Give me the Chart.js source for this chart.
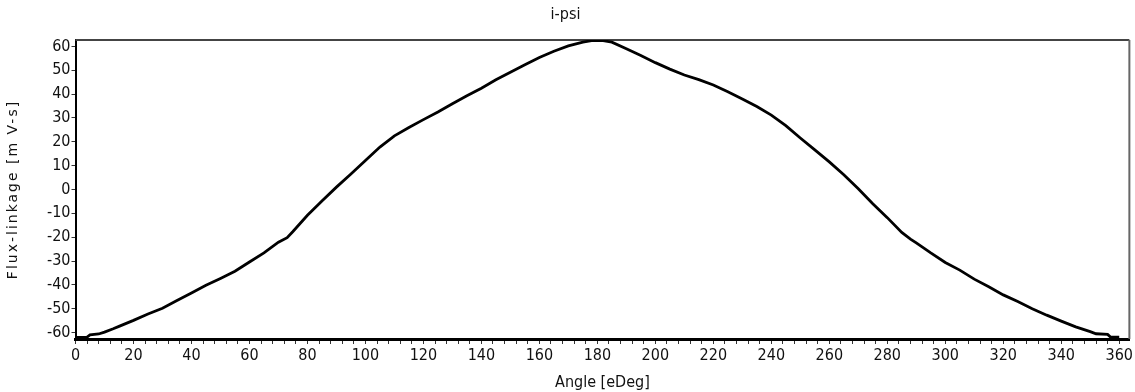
<!DOCTYPE html>
<html>
<head>
<meta charset="utf-8">
<script src="https://cdn.jsdelivr.net/npm/chart.js@4/dist/chart.umd.min.js"></script>
<style>
  html, body { margin: 0; padding: 0; background: #ffffff; }
  #wrap { width: 1135px; height: 392px; position: relative; }
</style>
</head>
<body>
<div id="wrap"><canvas id="c" width="1135" height="392"></canvas></div>
<script>
// ---- data ----
const chartTitle = "i-psi";
const xAxisTitle = "Angle [eDeg]";
const yAxisTitle = "Flux-linkage [m V-s]";

const angleDeg = [
  0, 4, 5, 8, 10, 13, 15, 20, 25, 30, 35, 40, 45, 50, 55, 60, 65, 70, 73, 75,
  80, 85, 90, 95, 100, 105, 110, 115, 120, 125, 130, 135, 140, 145, 150, 155,
  160, 165, 170, 175, 178, 182, 185, 190, 195, 200, 205, 210, 215, 220, 225,
  230, 235, 240, 245, 250, 255, 260, 265, 270, 275, 280, 285, 288, 290, 295,
  300, 305, 310, 315, 320, 325, 330, 335, 340, 345, 350, 352, 356, 357, 360
];
const fluxLinkage = [
  -62.0, -61.9, -61.0, -60.6, -59.8, -58.4, -57.4, -54.9, -52.2, -49.8, -46.6, -43.4, -40.2, -37.3, -34.3, -30.4, -26.6, -22.1, -20.2, -17.6,
  -10.8, -4.8, 1.0, 6.5, 12.2, 17.8, 22.5, 26.0, 29.3, 32.5, 36.0, 39.3, 42.5, 46.0, 49.2, 52.3,
  55.4, 58.0, 60.2, 61.8, 62.4, 62.4, 61.8, 59.0, 56.2, 53.2, 50.5, 48.0, 46.1, 43.8, 41.0,
  38.0, 34.8, 31.2, 26.8, 21.6, 16.6, 11.6, 6.2, 0.3, -6.0, -11.8, -18.0, -20.8, -22.4, -26.6,
  -30.6, -33.8, -37.6, -40.8, -44.2, -47.0, -50.0, -52.7, -55.2, -57.6, -59.6, -60.5, -60.8, -61.9, -61.9
];
const yTickValues = [-60, -50, -40, -30, -20, -10, 0, 10, 20, 30, 40, 50, 60];
const xLabelStep = 20;

const FONT_FAMILY = "'Liberation Sans Narrow', 'DejaVu Sans Condensed', 'Roboto Condensed', Roboto, sans-serif";
const TITLE_FONT_FAMILY = "'DejaVu Sans', Verdana, sans-serif";

const framePlugin = {
  id: 'frame',
  beforeDatasetsDraw(chart) {
    const { ctx, chartArea: a } = chart;
    ctx.save();
    ctx.strokeStyle = '#444444';
    ctx.lineWidth = 2;
    ctx.beginPath();
    ctx.moveTo(a.left, a.top);
    ctx.lineTo(a.right, a.top);
    ctx.stroke();
    ctx.strokeStyle = '#666666';
    ctx.beginPath();
    ctx.moveTo(a.right, a.top);
    ctx.lineTo(a.right, a.bottom);
    ctx.stroke();
    ctx.restore();
  },
  afterLayout(chart) {
    const ys = chart.scales.y;
    if (ys && !ys._spacedTitle) {
      const orig = ys.drawTitle.bind(ys);
      ys.drawTitle = function () {
        const ctx = this.ctx;
        ctx.save();
        ctx.letterSpacing = '2px';
        orig();
        ctx.restore();
      };
      ys._spacedTitle = true;
    }
  }
};

new Chart(document.getElementById('c'), {
  type: 'line',
  data: {
    datasets: [{
      label: 'psi',
      data: angleDeg.map((a, i) => ({ x: a, y: fluxLinkage[i] })),
      borderColor: '#000000',
      borderWidth: 2.8,
      pointRadius: 0,
      tension: 0,
      fill: false
    }]
  },
  options: {
    responsive: false,
    animation: false,
    devicePixelRatio: 1,
    layout: { padding: { left: 0, right: 4, top: 0, bottom: 0 } },
    plugins: {
      legend: { display: false },
      tooltip: { enabled: false },
      title: {
        display: true,
        text: chartTitle,
        color: '#111111',
        font: { family: FONT_FAMILY, size: 16, weight: 'normal' },
        padding: { top: 5, bottom: 15.8 }
      }
    },
    scales: {
      x: {
        type: 'linear',
        min: 0,
        max: 363.5,
        afterFit(s) { s.height = 53; },
        border: { display: true, color: '#000000', width: 3 },
        grid: { drawOnChartArea: false, drawTicks: true, tickLength: 5, color: '#333333', lineWidth: 1 },
        ticks: {
          stepSize: 4,
          includeBounds: false,
          autoSkip: false,
          maxRotation: 0,
          padding: 2,
          color: '#111111',
          font: { family: FONT_FAMILY, size: 16 },
          callback: (v) => (v % xLabelStep === 0 ? String(v) : '')
        },
        title: {
          display: true,
          text: xAxisTitle,
          color: '#111111',
          font: { family: FONT_FAMILY, size: 16 },
          padding: { top: 0, bottom: 0 }
        }
      },
      y: {
        type: 'linear',
        min: -62.7,
        max: 62.7,
        afterFit(s) { s.width = 75.5; },
        afterBuildTicks(s) { s.ticks = yTickValues.map(v => ({ value: v })); },
        border: { display: true, color: '#000000', width: 2 },
        grid: { drawOnChartArea: false, drawTicks: true, tickLength: 4, color: '#333333', lineWidth: 1 },
        ticks: {
          padding: 1,
          color: '#111111',
          font: { family: FONT_FAMILY, size: 16 }
        },
        title: {
          display: true,
          text: yAxisTitle,
          color: '#111111',
          font: { family: TITLE_FONT_FAMILY, size: 14 },
          padding: { top: 5, bottom: 0 }
        }
      }
    }
  },
  plugins: [framePlugin]
});
</script>
</body>
</html>
